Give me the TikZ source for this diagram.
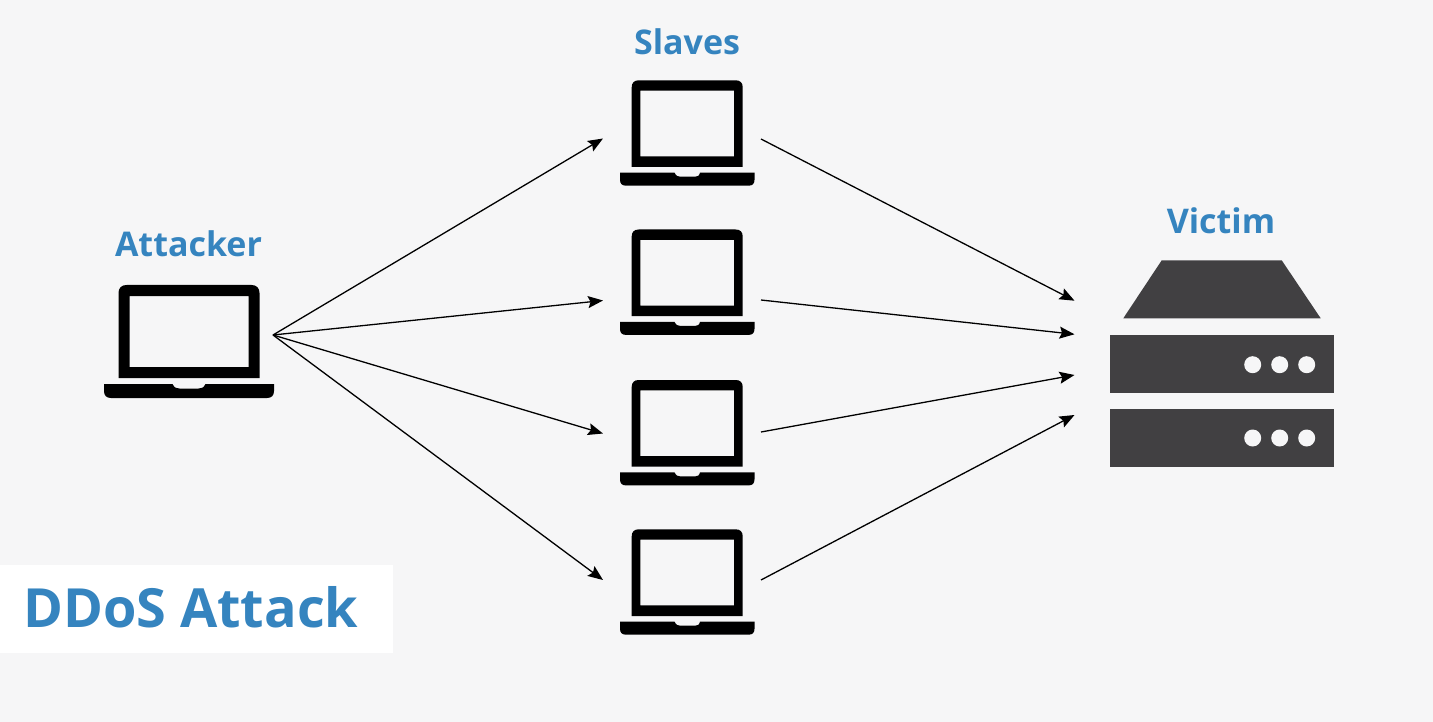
\documentclass[tikz,border=0pt]{standalone}
\usepackage{fontspec}
\setmainfont{Open Sans}
\usetikzlibrary{arrows.meta}
\definecolor{pagebg}{HTML}{F6F6F7}
\definecolor{titleblue}{HTML}{3584BF}
\definecolor{serverdark}{HTML}{414042}
\tikzset{
  x=1pt,y=-1pt,
  heading/.style={text=titleblue,font=\fontsize{34}{34}\selectfont\bfseries,anchor=base,inner sep=0pt},
  bigtitle/.style={text=titleblue,font=\fontsize{54}{54}\selectfont\bfseries,anchor=base west,inner sep=0pt},
  link/.style={draw=black,line width=1.3pt,-{Stealth[length=15pt,width=12pt,inset=2.5pt]}},
  serverpart/.style={fill=serverdark,draw=none},
  serverled/.style={fill=pagebg,draw=none},
  pics/attackerlaptop/.style={code={
    \fill[black,even odd rule]
      (0,93) -- (0,8) .. controls (0,3) and (3,0) .. (8,0) -- (133,0)
      .. controls (138,0) and (141,3) .. (141,8) -- (141,93) -- cycle
      (11,11) rectangle (130,82);
    \fill[black] (-14.5,99) -- (54,99) .. controls (56,103) and (58,103.5) .. (61,103.5)
      -- (80,103.5) .. controls (83,103.5) and (85,103) .. (87,99) -- (155.5,99)
      -- (155.5,106) .. controls (155.5,110.5) and (153,113) .. (148.5,113)
      -- (-7.5,113) .. controls (-12,113) and (-14.5,110.5) .. (-14.5,106) -- cycle;
  }},
  pics/slavelaptop/.style={code={
    \fill[black,even odd rule]
      (0,86.7) -- (0,7) .. controls (0,2.5) and (2.5,0) .. (7,0) -- (104,0)
      .. controls (108.5,0) and (111,2.5) .. (111,7) -- (111,86.7) -- cycle
      (8.6,10.4) rectangle (102.3,76);
    \fill[black] (-11.7,92.4) -- (42.8,92.4) .. controls (44.5,95.6) and (46,96.4) .. (48.5,96.4)
      -- (63.5,96.4) .. controls (66,96.4) and (67.5,95.6) .. (68.3,92.4) -- (122.8,92.4)
      -- (122.8,99.4) .. controls (122.8,103.4) and (120.8,105.4) .. (116.8,105.4)
      -- (-5.7,105.4) .. controls (-9.7,105.4) and (-11.7,103.4) .. (-11.7,99.4) -- cycle;
  }}
}
\begin{document}
\begin{tikzpicture}
\useasboundingbox (0,0) rectangle (1433,722);
\fill[pagebg] (0,0) rectangle (1433,722);
\fill[white] (0,564.7) rectangle (393,652.7);
\node[bigtitle] (title) at (23,627) {DDoS Attack};
\node[heading] (attackerlabel) at (188.5,257) {Attacker};
\node[heading] (slaveslabel) at (687,54.5) {Slaves};
\node[heading] (victimlabel) at (1221,234) {Victim};
\pic (attacker) at (118.5,285) {attackerlaptop};
\pic (slaveone) at (631.7,80.3) {slavelaptop};
\pic (slavetwo) at (631.7,229.5) {slavelaptop};
\pic (slavethree) at (631.7,380) {slavelaptop};
\pic (slavefour) at (631.7,529.3) {slavelaptop};
\fill[serverpart] (1161.7,260.3) -- (1281.7,260.3) -- (1320.7,318.3) -- (1123.3,318.3) -- cycle;
\fill[serverpart] (1110.3,335) rectangle (1333.7,393.3);
\fill[serverpart] (1110.3,408.7) rectangle (1333.7,467);
\foreach \yy in {364.7,438}{
  \foreach \xx in {1252.7,1279.7,1306.7}{
    \fill[serverled] (\xx,\yy) circle[radius=8.5];
  }
}
\coordinate (fan) at (273,335);
\coordinate (inone) at (603,138.5);
\coordinate (intwo) at (603,300.5);
\coordinate (inthree) at (603,433.5);
\coordinate (infour) at (603,580);
\coordinate (outone) at (761,139);
\coordinate (outtwo) at (761,300);
\coordinate (outthree) at (761,432);
\coordinate (outfour) at (761,580);
\coordinate (hitone) at (1074.5,300.7);
\coordinate (hittwo) at (1074.5,334.3);
\coordinate (hitthree) at (1074.5,375);
\coordinate (hitfour) at (1074.5,415);
\draw[link] (fan) -- (inone);
\draw[link] (fan) -- (intwo);
\draw[link] (fan) -- (inthree);
\draw[link] (fan) -- (infour);
\draw[link] (outone) -- (hitone);
\draw[link] (outtwo) -- (hittwo);
\draw[link] (outthree) -- (hitthree);
\draw[link] (outfour) -- (hitfour);
\end{tikzpicture}
\end{document}
